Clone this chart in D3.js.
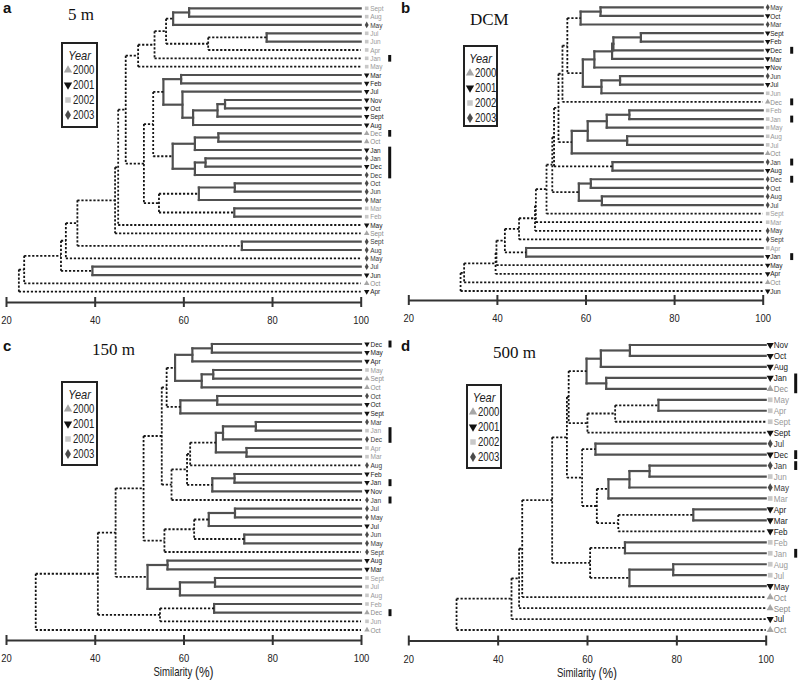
<!DOCTYPE html>
<html><head><meta charset="utf-8">
<script src="https://cdn.jsdelivr.net/npm/d3@7"></script>
<style>body{margin:0;background:#fff} svg{display:block}</style>
</head><body><svg id="chart" width="798" height="680"></svg>
<script>
// ---------- DATA ----------
const legendYears = [2000, 2001, 2002, 2003];
const tickValues = [20, 40, 60, 80, 100];

// Panel a (5 m)
const namesA = ["Sept","Aug","May","Jul","Jun","Apr","Jan","May","Mar","Feb","Jul","Nov","Oct","Sept","Aug","Dec","Oct","Jan","Jan","Dec","Dec","Oct","Jun","Mar","Mar","Feb","May","Sept","Sept","Aug","May","Jul","Jun","Oct","Apr"];
const yearsA = [2002,2002,2003,2002,2002,2002,2002,2002,2001,2001,2001,2001,2001,2001,2001,2000,2000,2001,2003,2001,2003,2003,2003,2003,2002,2002,2001,2000,2003,2003,2003,2003,2001,2000,2001];
const barsA = [[6,6],[15,15],[17,20]];
// merges: [child, child, similarity, dashed]; leaves are 0..n-1, merge k is n+k
const mergesA = [
 [0,1,61.3,0],[35,2,57.7,0],[3,4,78.8,0],[37,5,65.6,1],[36,38,56.1,1],[39,6,53.5,1],[40,7,49.8,1],
 [8,9,59.5,0],[11,12,69.4,0],[43,13,67.7,0],[44,14,62.2,0],[10,45,59.8,0],[42,46,55.5,0],
 [15,16,67.9,0],[48,17,62.6,0],[18,19,65.0,0],[50,20,62.6,0],[49,51,57.6,0],[47,52,53.2,1],
 [21,22,71.6,0],[54,23,63.5,0],[24,25,71.5,0],[55,56,54.5,1],[53,57,51.1,1],[41,58,47.0,1],
 [59,26,45.3,1],[60,27,44.6,1],[28,29,73.2,0],[61,62,36.1,1],[63,30,33.5,1],[31,32,39.5,0],
 [64,65,32.4,1],[66,33,24.1,1],[67,34,22.9,1]
];

// Panel b (DCM)
const namesB = ["May","Oct","Mar","Sept","Feb","Dec","Mar","Nov","Jun","Jul","Jun","Dec","Feb","Jan","May","Aug","Jul","Oct","Jan","Aug","Dec","Oct","Aug","Jul","Sept","Mar","May","Sept","Apr","Jan","May","Apr","Oct","Jun"];
const yearsB = [2003,2001,2003,2001,2001,2001,2001,2001,2003,2001,2002,2000,2002,2002,2002,2002,2002,2000,2003,2001,2003,2003,2003,2003,2002,2002,2003,2003,2002,2001,2001,2001,2000,2001];
const barsB = [[5,5],[11,11],[13,13],[18,18],[20,20],[29,29]];
const mergesB = [
 [0,1,63.4,0],[34,2,58.9,0],[3,4,72.5,0],[36,5,66.3,0],[37,6,66.0,0],[38,7,62.0,0],
 [8,9,67.8,0],[40,10,63.6,0],[39,41,59.4,0],[35,42,55.9,1],[43,11,54.8,1],
 [12,13,69.9,0],[45,14,64.8,0],[15,16,69.4,0],[46,47,60.5,0],[48,17,56.9,0],[44,49,53.9,1],
 [18,19,66.1,0],[20,21,61.2,0],[22,23,63.7,0],[52,53,58.5,0],[50,51,52.9,1],[55,54,52.5,1],
 [56,24,51.2,1],[57,25,48.8,1],[58,26,48.6,1],[59,27,45.0,1],[28,29,46.6,0],[60,61,41.8,1],
 [62,30,39.9,1],[63,31,39.7,1],[64,32,32.6,1],[65,33,31.8,1]
];

// Panel c (150 m)
const namesC = ["Dec","May","Apr","May","Sept","Oct","Oct","Oct","Sept","Mar","Jan","Dec","Apr","Mar","Aug","Feb","Jan","Nov","Jan","Jul","May","Jul","Jun","May","Sept","Aug","Mar","Sept","Jul","Aug","Feb","Dec","Jun","Oct"];
const yearsC = [2001,2001,2001,2002,2000,2000,2003,2001,2001,2003,2002,2003,2002,2002,2003,2001,2001,2001,2003,2003,2003,2001,2003,2003,2003,2001,2001,2002,2002,2002,2002,2000,2002,2000];
const barsC = [[0,0],[10,11],[16,16],[18,18],[31,31]];
const mergesC = [
 [0,1,66.4,0],[34,2,62.0,0],[3,4,66.7,0],[36,5,64.1,0],[35,37,58.1,0],[6,7,67.6,0],[39,8,59.3,0],
 [38,40,56.2,1],[9,10,76.3,0],[42,11,68.9,0],[12,13,74.2,0],[43,44,67.3,0],[45,14,61.5,1],
 [15,16,71.5,0],[47,17,66.5,0],[46,48,60.8,1],[49,18,57.3,1],[41,50,55.1,1],
 [19,20,71.6,0],[52,21,65.7,0],[22,23,73.7,0],[53,54,62.4,1],[55,24,55.7,1],[51,56,51.0,1],
 [25,26,56.4,0],[27,28,67.1,0],[59,29,59.2,0],[58,60,51.9,0],[57,61,44.7,1],
 [30,31,66.9,0],[63,32,54.7,1],[62,64,40.7,1],[65,33,26.7,1]
];

// Panel d (500 m)
const namesD = ["Nov","Oct","Aug","Jan","Dec","May","Apr","Sept","Sept","Jul","Dec","Jan","Jun","May","Mar","Apr","Mar","Feb","Feb","Jan","Aug","Jul","May","Oct","Sept","Jul","Oct"];
const yearsD = [2001,2001,2001,2001,2000,2002,2002,2002,2001,2003,2001,2003,2002,2003,2002,2001,2001,2001,2002,2002,2002,2002,2001,2000,2000,2001,2000];
const barsD = [[3,4],[10,10],[11,11],[19,19]];
const mergesD = [
 [0,1,69.6,0],[27,2,63.1,0],[3,4,64.3,0],[28,29,59.9,0],[5,6,76.0,0],[31,7,66.3,1],[32,8,60.1,1],
 [30,33,55.9,1],[9,10,61.9,0],[11,12,74.0,0],[36,13,69.5,0],[37,14,64.8,0],[15,16,83.8,0],
 [39,17,67.0,1],[38,40,62.2,1],[35,41,58.9,1],[34,42,55.5,1],[18,19,68.5,0],[20,21,79.3,0],
 [45,22,69.5,0],[44,46,60.7,1],[43,47,52.2,1],[48,23,45.5,1],[49,24,44.8,1],[50,25,43.1,1],[51,26,30.8,1]
];

// ---------- STYLE / LAYOUT ----------
const yearFill = {2000:"#a6a6a6", 2001:"#111111", 2002:"#c8c8c8", 2003:"#4a4a4a"};
const yearText = {2000:"#8a8a8a", 2001:"#222222", 2002:"#999999", 2003:"#3a3a3a"};
const symType = {2000:d3.symbolTriangle, 2001:d3.symbolTriangle, 2002:d3.symbolSquare, 2003:d3.symbolDiamond};
const symRot = {2000:0, 2001:180, 2002:0, 2003:0};

const panels = [
 {names:namesA, years:yearsA, bars:barsA, merges:mergesA, letter:"a", title:"5 m",
  xr:[6,360.7], yr:[8.3,291.7], axisY:302, letterPos:[3,13], titlePos:[68,20],
  leg:[62,43,35,84], fs:7.2, sx:0.9, mk:[6,9.5,27.5], msz:13, xlabel:false},
 {names:namesB, years:yearsB, bars:barsB, merges:mergesB, letter:"b", title:"DCM",
  xr:[408.3,762.7], yr:[7.3,291], axisY:300, letterPos:[401,13], titlePos:[470,25],
  leg:[464,46,33,80], fs:7.4, sx:0.88, mk:[5,7.5,27.5], msz:13, xlabel:false},
 {names:namesC, years:yearsC, bars:barsC, merges:mergesC, letter:"c", title:"150 m",
  xr:[6,361], yr:[344,630], axisY:640, letterPos:[3,351], titlePos:[92,355],
  leg:[62,382,35,83], fs:7.4, sx:0.88, mk:[6,9.5,27.5], msz:13, xlabel:true},
 {names:namesD, years:yearsD, bars:barsD, merges:mergesD, letter:"d", title:"500 m",
  xr:[408.3,765.7], yr:[345,630], axisY:640.5, letterPos:[401,351], titlePos:[493,358],
  leg:[467,385,34,83], fs:9.5, sx:0.85, mk:[4.5,8,28.5], msz:22, xlabel:true}
];

const svg = d3.select("#chart");
const sans = "'Liberation Sans', Arial, sans-serif";

function symbolPath(yr, size){
  return d3.symbol().type(symType[yr]).size(size)();
}

function drawPanel(p){
  const g = svg.append("g");
  const n = p.names.length;
  const nodes = p.names.map((name,i)=>({name, year:p.years[i], row:i, h:100}));
  p.merges.forEach(([a,b,h,d])=>nodes.push({h, dashed:!!d, children:[nodes[a], nodes[b]]}));
  const root = d3.hierarchy(nodes[nodes.length-1], d=>d.children);
  const x = d3.scaleLinear().domain([20,100]).range(p.xr);
  const y = d3.scalePoint().domain(d3.range(n)).range(p.yr);

  root.eachAfter(nd=>{
    nd.px = x(nd.data.h);
    nd.py = nd.children ? (nd.children[0].py + nd.children[1].py)/2 : y(nd.data.row);
  });

  const segs = [];
  root.each(nd=>{
    if(!nd.children) return;
    const dsh = nd.data.dashed;
    segs.push({x1:nd.px, y1:nd.children[0].py, x2:nd.px, y2:nd.children[1].py, dsh});
    nd.children.forEach(c=>segs.push({x1:nd.px, y1:c.py, x2:c.px, y2:c.py, dsh}));
  });
  segs.sort((a,b)=>a.dsh-b.dsh);
  g.append("g").selectAll("line").data(segs).join("line")
    .attr("x1",d=>d.x1).attr("y1",d=>d.y1).attr("x2",d=>d.x2).attr("y2",d=>d.y2)
    .attr("stroke",d=>d.dsh?"#151515":"#505050")
    .attr("stroke-width",d=>d.dsh?1.8:2.2)
    .attr("stroke-dasharray",d=>d.dsh?"2.2,1.8":null)
    .attr("stroke-linecap",d=>d.dsh?"butt":"square");

  const x100 = x(100);
  const leaves = root.leaves();
  g.append("g").selectAll("path").data(leaves).join("path")
    .attr("d",d=>symbolPath(d.data.year, p.msz))
    .attr("fill",d=>yearFill[d.data.year])
    .attr("transform",d=>`translate(${x100+p.mk[0]},${d.py}) rotate(${symRot[d.data.year]})`);
  g.append("g").selectAll("text").data(leaves).join("text")
    .attr("transform",d=>`translate(${x100+p.mk[1]},${d.py}) scale(${p.sx},1)`)
    .attr("dy","0.36em")
    .attr("font-family",sans).attr("font-size",p.fs)
    .attr("fill",d=>yearText[d.data.year])
    .text(d=>d.data.name);
  const step = y.step();
  g.append("g").selectAll("rect").data(p.bars).join("rect")
    .attr("x",x100+p.mk[2]).attr("width",3)
    .attr("y",d=>y(d[0]) - step*0.4)
    .attr("height",d=>y(d[1]) - y(d[0]) + step*0.8)
    .attr("fill","#111");

  const ax = g.append("g").attr("transform",`translate(0,${p.axisY})`)
    .call(d3.axisBottom(x).tickValues(tickValues).tickSize(5).tickSizeOuter(0).tickPadding(9));
  ax.select(".domain").attr("stroke","#333").attr("stroke-width",2);
  ax.selectAll(".tick line").attr("y1",-5).attr("y2",5).attr("stroke","#333").attr("stroke-width",2);
  ax.selectAll(".tick text").attr("font-family",sans).attr("font-size",11.5)
    .attr("fill","#222").attr("transform","scale(0.82,1)");
  if(p.xlabel){
    const cx = (p.xr[0]+p.xr[1])/2;
    const t = g.append("text").attr("transform",`translate(${cx},${p.axisY+36}) scale(0.8,1)`)
      .attr("text-anchor","middle").attr("font-family",sans).attr("font-size",12).attr("fill","#222");
    t.append("tspan").text("Similarity ");
    t.append("tspan").attr("font-size",15).attr("dy","1").text("(%)");
  }

  g.append("text").attr("x",p.letterPos[0]).attr("y",p.letterPos[1])
    .attr("font-family",sans).attr("font-weight","bold").attr("font-size",15).attr("fill","#111").text(p.letter);
  g.append("text").attr("x",p.titlePos[0]).attr("y",p.titlePos[1])
    .attr("font-family","'Liberation Serif', 'Times New Roman', serif").attr("font-size",17).attr("fill","#111").text(p.title);

  const [lx,ly,lw,lh] = p.leg;
  const lg = g.append("g");
  lg.append("rect").attr("x",lx).attr("y",ly).attr("width",lw).attr("height",lh)
    .attr("fill","#fff").attr("stroke","#222").attr("stroke-width",2);
  lg.append("text").attr("transform",`translate(${lx+lw/2},${ly+12}) scale(0.85,1)`)
    .attr("text-anchor","middle").attr("dy","0.36em").attr("font-family",sans)
    .attr("font-style","italic").attr("font-size",13).attr("fill","#222").text("Year");
  legendYears.forEach((yr,i)=>{
    const yy = ly+27+15*i;
    lg.append("path").attr("d",symbolPath(yr,30)).attr("fill",yearFill[yr])
      .attr("transform",`translate(${lx+6},${yy}) rotate(${symRot[yr]})`);
    lg.append("text").attr("transform",`translate(${lx+11},${yy}) scale(0.8,1)`)
      .attr("dy","0.36em").attr("font-family",sans).attr("font-size",12).attr("fill","#222").text(yr);
  });
}

panels.forEach(drawPanel);
</script>
</body></html>
